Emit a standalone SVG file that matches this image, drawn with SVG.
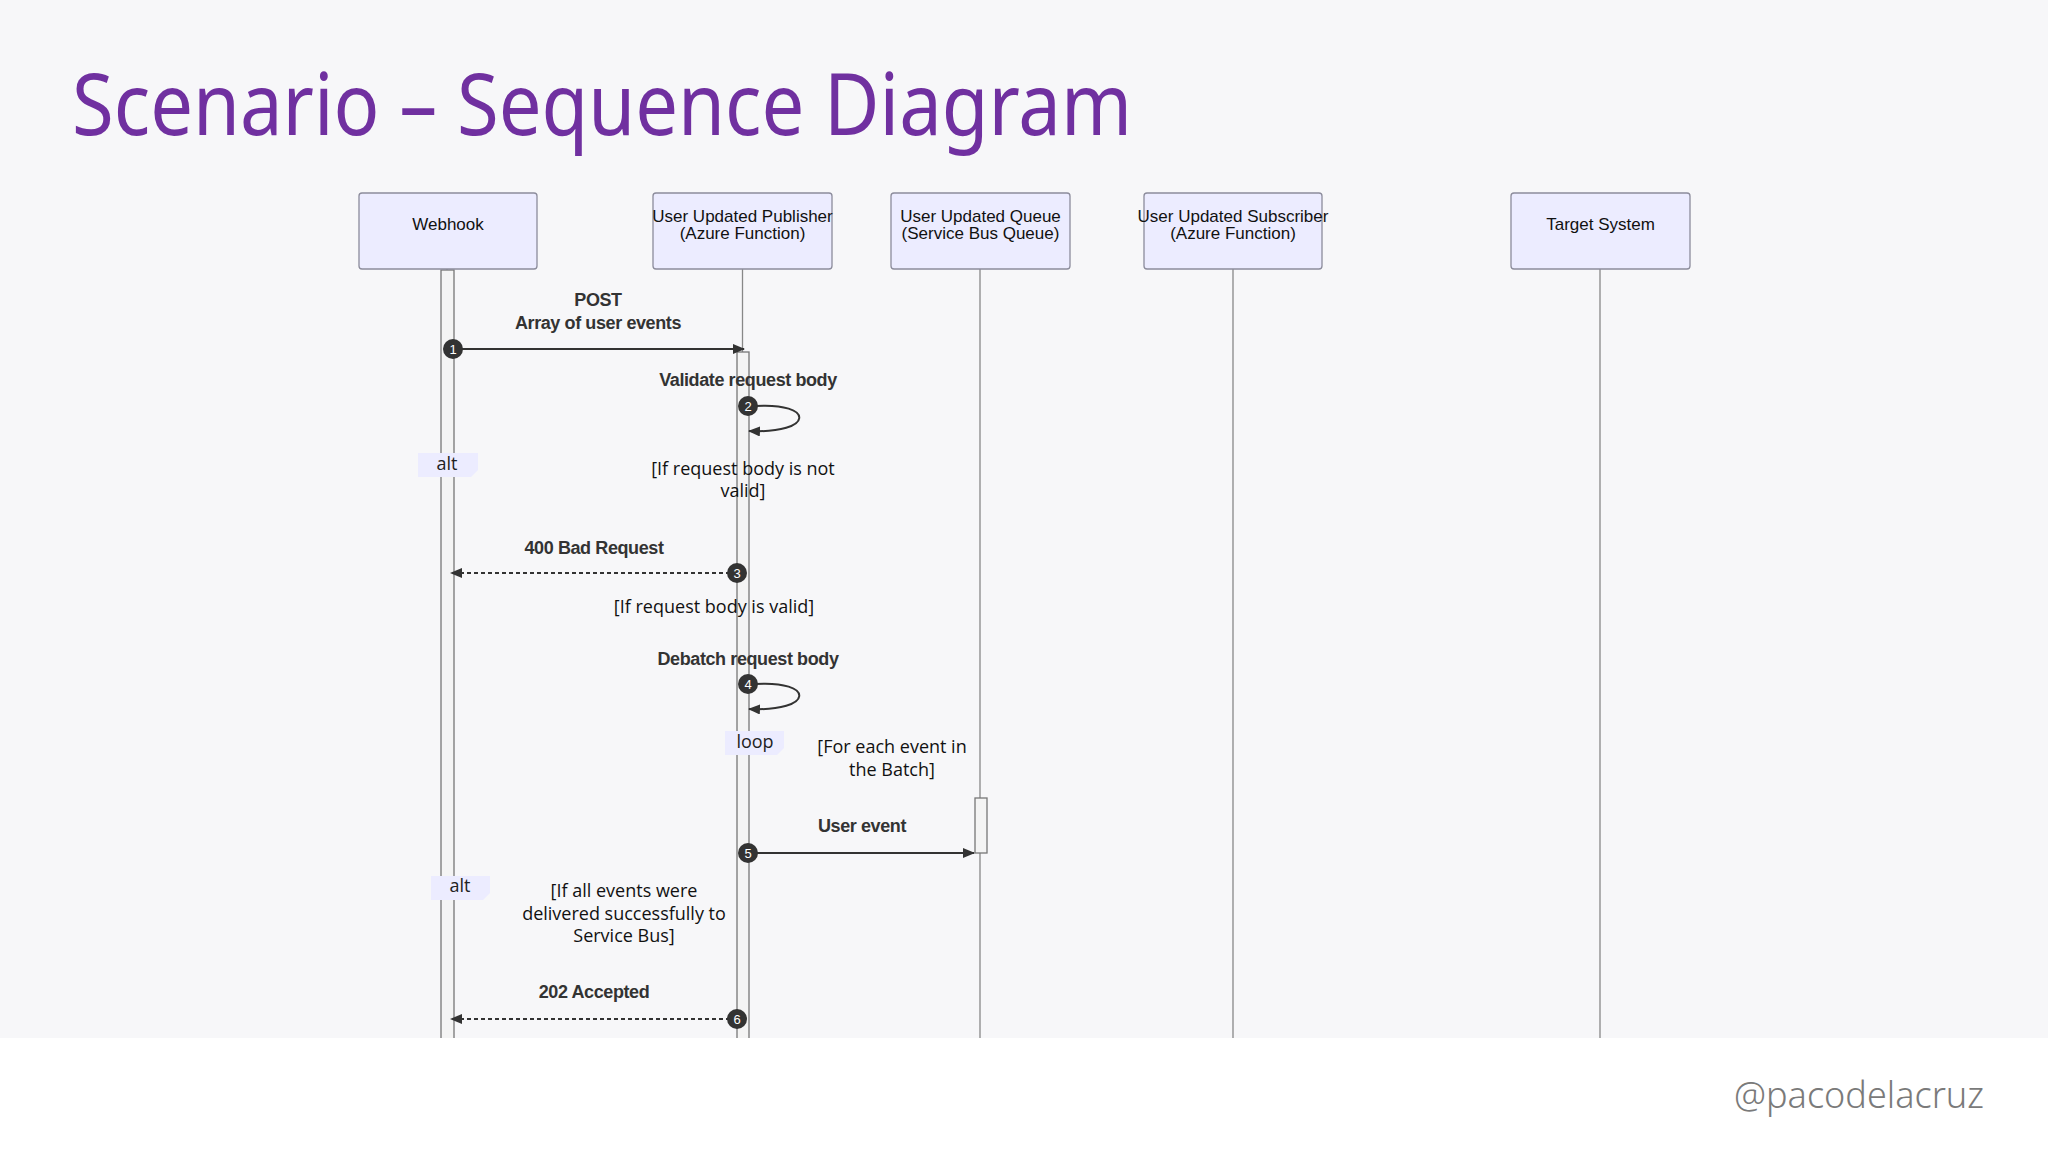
<svg xmlns="http://www.w3.org/2000/svg" width="2048" height="1152" viewBox="0 0 2048 1152">
<style>
.actor rect{fill:#ECECFF;stroke:#8c8c9c;stroke-width:1.3}
.actor text{font-family:"Liberation Sans",Arial,sans-serif;font-size:17px;fill:#111;text-anchor:middle}
.life{stroke:#888;stroke-width:1.3}
.act{fill:#F4F4F4;stroke:#777;stroke-width:1.3}
.msg{font-family:"Liberation Sans",Arial,sans-serif;font-weight:bold;font-size:18px;fill:#333;text-anchor:middle;letter-spacing:-0.4px}
.cond{font-family:"Open Sans","Liberation Sans",sans-serif;font-size:18px;fill:#111;text-anchor:middle}
.lbl{fill:#ECECFF}
.lbltxt{font-family:"Open Sans","Liberation Sans",sans-serif;font-size:18px;fill:#222;text-anchor:middle}
.ln{stroke:#333;stroke-width:2;fill:none}
.dash{stroke-dasharray:4,3}
.num circle{fill:#333}
.num text{font-family:"Liberation Sans",Arial,sans-serif;font-size:13px;fill:#fff;text-anchor:middle}
</style>
<defs>
<marker id="arr" viewBox="0 0 12 10" refX="11" refY="5" markerWidth="12" markerHeight="10" markerUnits="userSpaceOnUse" orient="auto"><path d="M0,0 L12,5 L0,10 z" fill="#333"/></marker>
</defs>
<rect width="2048" height="1038" fill="#F7F7F9"/>

<g id="lifelines">
<line class="life" x1="447" y1="269" x2="447" y2="1038"/>
<line class="life" x1="742.5" y1="269" x2="742.5" y2="1038"/>
<line class="life" x1="980" y1="269" x2="980" y2="1038"/>
<line class="life" x1="1233" y1="269" x2="1233" y2="1038"/>
<line class="life" x1="1600" y1="269" x2="1600" y2="1038"/>
<rect class="act" x="441" y="270" width="13" height="780"/>
<rect class="act" x="737" y="352" width="12" height="698"/>
<rect class="act" x="975" y="798" width="12" height="55"/>
</g>
<rect y="1038" width="2048" height="114" fill="#FFFFFF"/>
<text x="72" y="135" font-family="Noto Sans,Open Sans,sans-serif" font-size="86" fill="#7030A0" textLength="1060" lengthAdjust="spacingAndGlyphs">Scenario – Sequence Diagram</text>
<text x="1984" y="1108" font-family="Noto Sans,Open Sans,sans-serif" font-weight="300" font-size="36" fill="#7a7a7a" text-anchor="end" textLength="250" lengthAdjust="spacingAndGlyphs">@pacodelacruz</text>

<g id="webhook" class="actor"><rect x="359" y="193" width="178" height="76" rx="3"/><text x="448" y="230">Webhook</text></g>
<g id="publisher" class="actor"><rect x="653" y="193" width="179" height="76" rx="3"/><text x="742.5" y="222">User Updated Publisher</text><text x="742.5" y="239">(Azure Function)</text></g>
<g id="queue" class="actor"><rect x="891" y="193" width="179" height="76" rx="3"/><text x="980.5" y="222">User Updated Queue</text><text x="980.5" y="239">(Service Bus Queue)</text></g>
<g id="subscriber" class="actor"><rect x="1144" y="193" width="178" height="76" rx="3"/><text x="1233" y="222">User Updated Subscriber</text><text x="1233" y="239">(Azure Function)</text></g>
<g id="target" class="actor"><rect x="1511" y="193" width="179" height="76" rx="3"/><text x="1600.5" y="230">Target System</text></g>

<g id="frames">
<path class="lbl" d="M418,453 H478 V470 L471,477 H418 z"/><text class="lbltxt" x="447" y="470">alt</text>
<text class="cond" x="743" y="475">[If request body is not</text><text class="cond" x="743" y="497">valid]</text>
<text class="cond" x="714" y="613">[If request body is valid]</text>
<path class="lbl" d="M725,731 H784 V748 L777,755 H725 z"/><text class="lbltxt" x="755" y="748">loop</text>
<text class="cond" x="892" y="753">[For each event in</text><text class="cond" x="892" y="776">the Batch]</text>
<path class="lbl" d="M431,876 H490 V893 L483,900 H431 z"/><text class="lbltxt" x="460" y="892">alt</text>
<text class="cond" x="624" y="897">[If all events were</text><text class="cond" x="624" y="920">delivered successfully to</text><text class="cond" x="624" y="942">Service Bus]</text>
</g>

<g id="connectors">
<text class="msg" x="598" y="306">POST</text><text class="msg" x="598" y="329">Array of user events</text>
<line class="ln" x1="453" y1="349" x2="744" y2="349" marker-end="url(#arr)"/>
<text class="msg" x="748" y="386">Validate request body</text>
<path class="ln" d="M755,406 C815,402 815,434 749,431" marker-end="url(#arr)"/>
<text class="msg" x="594" y="554">400 Bad Request</text>
<line class="ln dash" x1="730" y1="573" x2="451" y2="573" marker-end="url(#arr)"/>
<text class="msg" x="748" y="665">Debatch request body</text>
<path class="ln" d="M755,684 C815,680 815,712 749,709" marker-end="url(#arr)"/>
<text class="msg" x="862" y="832">User event</text>
<line class="ln" x1="755" y1="853" x2="974" y2="853" marker-end="url(#arr)"/>
<text class="msg" x="594" y="998">202 Accepted</text>
<line class="ln dash" x1="730" y1="1019" x2="451" y2="1019" marker-end="url(#arr)"/>
</g>

<g id="numbers" class="num">
<g><circle cx="453" cy="349" r="10"/><text x="453" y="354">1</text></g>
<g><circle cx="748" cy="406" r="10"/><text x="748" y="411">2</text></g>
<g><circle cx="737" cy="573" r="10"/><text x="737" y="578">3</text></g>
<g><circle cx="748" cy="684" r="10"/><text x="748" y="689">4</text></g>
<g><circle cx="748" cy="853" r="10"/><text x="748" y="858">5</text></g>
<g><circle cx="737" cy="1019" r="10"/><text x="737" y="1024">6</text></g>
</g>
</svg>
